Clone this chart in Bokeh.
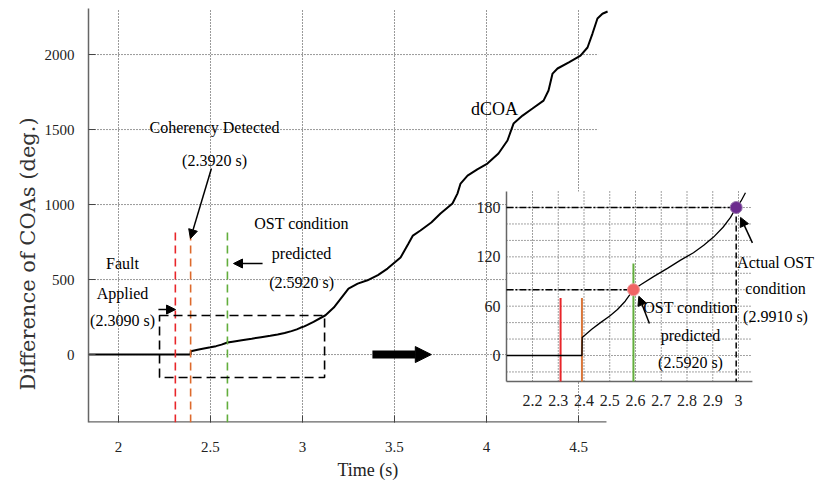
import numpy as np
from bokeh.plotting import figure
from bokeh.models import Range1d, FixedTicker, ColumnDataSource, Arrow, NormalHead, Title
from bokeh.core.properties import value
from bokeh.embed import file_html
from bokeh.resources import INLINE

# ---------------- data ----------------
t = [1.837, 2.1, 2.392, 2.393, 2.43, 2.464, 2.50, 2.53, 2.56, 2.592, 2.62, 2.67, 2.724,
     2.775, 2.825, 2.865, 2.903, 2.94, 2.969, 2.991, 3.01, 3.027, 3.06, 3.125, 3.17,
     3.25, 3.30, 3.353, 3.41, 3.462, 3.533, 3.576, 3.60, 3.641, 3.70, 3.75, 3.815,
     3.842, 3.859, 3.897, 3.95, 4.005, 4.065, 4.114, 4.147, 4.196, 4.25, 4.31, 4.337,
     4.359, 4.386, 4.45, 4.511, 4.549, 4.576, 4.603, 4.63, 4.658]
dcoa = [0, 0, 0, 22, 32, 40, 48, 56, 66, 80, 86, 96, 106,
        116, 125, 134, 144, 156, 168, 180, 188, 198, 218, 262, 313,
        440, 473, 495, 530, 573, 647, 740, 793, 827, 880, 940, 1007,
        1073, 1140, 1193, 1235, 1273, 1340, 1427, 1540, 1593, 1640, 1693, 1760,
        1873, 1907, 1950, 1993, 2047, 2140, 2240, 2272, 2287]

x_ticks = [2, 2.5, 3, 3.5, 4, 4.5]
x_tick_labels = ["2", "2.5", "3", "3.5", "4", "4.5"]
y_ticks = [0, 500, 1000, 1500, 2000]
y_tick_labels = ["0", "500", "1000", "1500", "2000"]

fault_t = 2.309
coh_t = 2.392
ost_pred_t = 2.592
ost_act_t = 2.991
ost_pred_v = 80
ost_act_v = 180

zoom_box_t = [2.223, 3.12]
zoom_box_v = [-153, 260]

inset_t = [2.099, 3.054]
inset_v = [-31.6, 199.5]
inset_x_ticks = [2.2, 2.3, 2.4, 2.5, 2.6, 2.7, 2.8, 2.9, 3.0]
inset_x_labels = ["2.2", "2.3", "2.4", "2.5", "2.6", "2.7", "2.8", "2.9", "3"]
inset_y_ticks = [0, 60, 120, 180]
inset_y_labels = ["0", "60", "120", "180"]
inset_x_grid = [2.2, 2.3, 2.4, 2.5, 2.6, 2.7, 2.8, 2.9, 3.0]
inset_y_grid = [-20, 0, 20, 40, 60, 80, 100, 120, 140, 160, 180]

main_t_range = (1.837, 5.788)
main_v_range = (-453, 2307)
main_axis_end = 4.652
main_grid_end = 4.609
inset_t_range = (0.4757, 3.299)
inset_v_range = (-81.5, 422.1)

SERIF = "Liberation Serif"

# ---------------- figure ----------------
p = figure(width=815, height=486, output_backend="svg", toolbar_location=None,
           x_range=Range1d(*main_t_range), y_range=Range1d(*main_v_range),
           min_border_left=88, min_border_right=0, min_border_top=8, min_border_bottom=64)
p.outline_line_color = None
p.background_fill_color = "white"
p.border_fill_color = "white"
p.xgrid.grid_line_color = None
p.ygrid.grid_line_color = None
p.extra_x_ranges = {"inset": Range1d(*inset_t_range)}
p.extra_y_ranges = {"inset": Range1d(*inset_v_range)}

for ax in (p.xaxis, p.yaxis):
    ax.major_tick_in = 7
    ax.major_tick_out = 0
    ax.minor_tick_line_color = None
    ax.major_tick_line_color = "#444444"
    ax.major_label_text_font = SERIF
    ax.major_label_text_font_size = "15px"
    ax.major_label_text_color = "#222222"
p.xaxis.ticker = FixedTicker(ticks=x_ticks)
p.xaxis.major_label_overrides = dict(zip(x_ticks, x_tick_labels))
p.xaxis.axis_line_color = None
p.xaxis.major_label_standoff = 19
p.yaxis.ticker = FixedTicker(ticks=y_ticks)
p.yaxis.major_label_overrides = dict(zip(y_ticks, y_tick_labels))
p.yaxis.axis_line_color = "#666666"
p.yaxis.axis_line_width = 1.5
p.yaxis.major_label_standoff = 14

# axis titles (as side titles so they can be offset like the reference)
p.add_layout(Title(text="Time (s)", align="left", offset=249, standoff=7,
                   text_font=SERIF, text_font_size="18px", text_font_style="normal",
                   text_color="#222222"), "below")
p.add_layout(Title(text="Difference of COAs (deg.)", align="left", offset=32, standoff=4,
                   text_font="DejaVu Serif", text_font_size="21px", text_font_style="normal",
                   text_color="#333333"), "left")

# main grid (dotted)
p.segment(x0=x_ticks, x1=x_ticks, y0=[main_v_range[0]] * len(x_ticks), y1=[main_v_range[1]] * len(x_ticks),
          line_color="#333333", line_width=1, line_dash="1 2")
p.segment(x0=[main_t_range[0]] * len(y_ticks), x1=[main_grid_end] * len(y_ticks), y0=y_ticks, y1=y_ticks,
          line_color="#333333", line_width=1, line_dash="1 2")
# main bottom axis line
p.segment(x0=[main_t_range[0]], x1=[main_axis_end], y0=[main_v_range[0] + 1.5], y1=[main_v_range[0] + 1.5],
          line_color="#666666", line_width=2)

# main curve
p.line(t, dcoa, line_color="black", line_width=2)

# event dashed lines
ev_t = [fault_t, coh_t, ost_pred_t]
ev_col = ["#e8262a", "#dd6a2c", "#62ae3c"]
p.segment(x0=ev_t, x1=ev_t, y0=[813] * 3, y1=[main_v_range[0]] * 3,
          line_color=ev_col, line_width=1.6, line_dash="8 5")

# zoom box
p.quad(left=[zoom_box_t[0]], right=[zoom_box_t[1]], bottom=[zoom_box_v[0]], top=[zoom_box_v[1]],
       fill_color=None, line_color="black", line_width=1.6, line_dash="9 5")

# main annotations
main_txt = ColumnDataSource(dict(
    x=[2.522, 2.522, 2.995, 2.995, 2.995, 2.022, 2.022, 2.022],
    y=[1513, 1293, 873, 673, 480, 607, 407, 227],
    text=["Coherency Detected", "(2.3920 s)", "OST condition", "predicted", "(2.5920 s)",
          "Fault", "Applied", "(2.3090 s)"]))
p.text(x="x", y="y", text="text", source=main_txt, text_font=value(SERIF),
       text_font_size=value("16px"), text_align="center", text_baseline="middle", text_color="black")
p.text(x=[4.043], y=[1640], text=["dCOA"], text_font=value(SERIF),
       text_font_size=value("18px"), text_align="center", text_baseline="middle", text_color="black")

main_arrows = ColumnDataSource(dict(x0=[2.505, 2.783, 2.217], y0=[1240, 607, 300],
                                    x1=[2.391, 2.625, 2.31], y1=[773, 607, 300]))
p.add_layout(Arrow(source=main_arrows, x_start="x0", y_start="y0", x_end="x1", y_end="y1",
                   line_width=1.5, line_color="black",
                   end=NormalHead(size=9, fill_color="black", line_color="black")))
p.add_layout(Arrow(x_start=3.38, y_start=0, x_end=3.70, y_end=0, line_width=8, line_color="black",
                   end=NormalHead(size=16, fill_color="black", line_color="black")))

# ---------------- inset ----------------
R = dict(x_range_name="inset", y_range_name="inset")
p.quad(left=[inset_t[0]], right=[inset_t[1]], bottom=[inset_v[0]], top=[inset_v[1]],
       fill_color="white", line_color=None, **R)
p.segment(x0=inset_x_grid, x1=inset_x_grid, y0=[inset_v[0]] * len(inset_x_grid), y1=[inset_v[1]] * len(inset_x_grid),
          line_color="#444444", line_width=1, line_dash="1 2", **R)
p.segment(x0=[inset_t[0]] * len(inset_y_grid), x1=[inset_t[1]] * len(inset_y_grid), y0=inset_y_grid, y1=inset_y_grid,
          line_color="#444444", line_width=1, line_dash="1 2", **R)
# inset axis lines
p.segment(x0=[inset_t[0], inset_t[0]], x1=[inset_t[0], inset_t[1]],
          y0=[inset_v[0], inset_v[0]], y1=[inset_v[1], inset_v[0]],
          line_color="#666666", line_width=1.5, **R)
# reference lines
p.segment(x0=[inset_t[0], inset_t[0]], x1=[ost_act_t, ost_pred_t], y0=[ost_act_v, ost_pred_v],
          y1=[ost_act_v, ost_pred_v], line_color="black", line_width=1.5, line_dash="7 2 2 2", **R)
p.segment(x0=[ost_act_t], x1=[ost_act_t], y0=[ost_act_v], y1=[inset_v[0]],
          line_color="black", line_width=1.5, line_dash="6 3", **R)
# event solid lines
p.segment(x0=ev_t, x1=ev_t, y0=[inset_v[0]] * 3, y1=[70, 70, 112],
          line_color=["#e8262a", "#d9763a", "#62ae3c"], line_width=2, **R)
# inset curve
it = [a for a in t if inset_t[0] <= a <= 3.03]
iv = [b for a, b in zip(t, dcoa) if inset_t[0] <= a <= 3.03]
p.line(it, iv, line_color="black", line_width=1.3, **R)
# markers
p.scatter(x=[ost_pred_t, ost_act_t], y=[ost_pred_v, ost_act_v], size=12,
          fill_color=["#f06464", "#6b2b8e"], line_color=["#f0a0a0", "#9a7ab0"], line_width=1, **R)
# inset tick labels
p.text(x=inset_x_ticks, y=[-54.7] * len(inset_x_ticks), text=inset_x_labels, text_font=value(SERIF),
       text_font_size=value("16px"), text_align="center", text_baseline="middle", text_color="#222222", **R)
p.text(x=[2.076] * len(inset_y_ticks), y=inset_y_ticks, text=inset_y_labels, text_font=value(SERIF),
       text_font_size=value("16px"), text_align="right", text_baseline="middle", text_color="#222222", **R)
# inset annotations
inset_txt = ColumnDataSource(dict(
    x=[2.8136, 2.8136, 2.8136, 3.1437, 3.1437, 3.1437],
    y=[58.4, 24.3, -8.5, 113.1, 81.5, 47.4],
    text=["OST condition", "predicted", "(2.5920 s)", "Actual OST", "condition", "(2.9910 s)"]))
p.text(x="x", y="y", text="text", source=inset_txt, text_font=value(SERIF),
       text_font_size=value("16px"), text_align="center", text_baseline="middle", text_color="black", **R)
inset_arrows = ColumnDataSource(dict(x0=[2.654, 3.054], y0=[39, 137], x1=[2.613, 3.008], y1=[72, 168]))
p.add_layout(Arrow(source=inset_arrows, x_start="x0", y_start="y0", x_end="x1", y_end="y1",
                   line_width=1.5, line_color="black", x_range_name="inset", y_range_name="inset",
                   end=NormalHead(size=9, fill_color="black", line_color="black")))

open("out.html", "w").write(file_html(p, INLINE))
